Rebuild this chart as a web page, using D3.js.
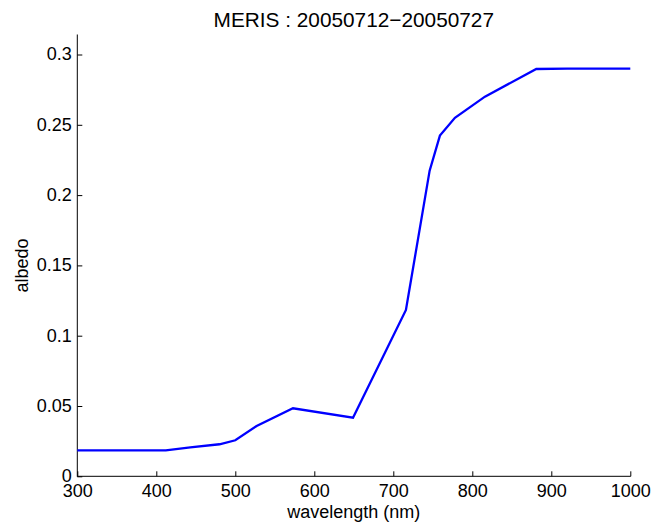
<!DOCTYPE html>
<html>
<head>
<meta charset="utf-8">
<script src="https://cdn.jsdelivr.net/npm/d3@7"></script>
<style>
  html, body { margin: 0; padding: 0; background: #fff; }
  svg { display: block; font-family: "Liberation Sans", Arial, Helvetica, sans-serif; }
</style>
</head>
<body>
<script>
// Data
const wavelengths = [300, 412, 443, 480, 500, 527, 573, 649, 716, 746, 759, 778, 816, 881, 920, 1000];
const albedo      = [0.0185, 0.0185, 0.0205, 0.0228, 0.0256, 0.0358, 0.0484, 0.0417, 0.1183, 0.2174, 0.2423, 0.255, 0.270, 0.2897, 0.2900, 0.2900];
const xTicks = [300, 400, 500, 600, 700, 800, 900, 1000];
const yTicks = [0, 0.05, 0.1, 0.15, 0.2, 0.25, 0.3];
const titleText = "MERIS : 20050712\u221220050727";
const xLabel = "wavelength (nm)";
const yLabel = "albedo";

const W = 652, H = 524;
const mLeft = 77.3, mRight = 630.3, mTop = 54.5, mBottom = 476.3;

const svg = d3.select("body").append("svg").attr("width", W).attr("height", H);

const x = d3.scaleLinear().domain([300, 1000]).range([mLeft, mRight]);
const y = d3.scaleLinear().domain([0, 0.3]).range([mBottom, mTop]);

const fmtY = d => (d === 0 ? "0" : String(+d.toFixed(2)));

// X axis
const xAxis = d3.axisBottom(x).tickValues(xTicks).tickSize(-5).tickPadding(0).tickFormat(d => String(d));
const gx = svg.append("g").attr("transform", `translate(0,${mBottom})`).call(xAxis);
gx.select(".domain").attr("stroke", "#000").attr("stroke-width", 1).attr("d", `M${mLeft},0H${mRight + 0.5}`);
gx.selectAll(".tick line").attr("stroke", "#000");
gx.selectAll(".tick text").attr("fill", "#000").attr("font-size", 18).attr("y", 20.5).attr("dy", 0);

// Y axis
const yAxis = d3.axisLeft(y).tickValues(yTicks).tickSize(-5).tickPadding(0).tickFormat(fmtY);
const gy = svg.append("g").attr("transform", `translate(${mLeft},0)`).call(yAxis);
gy.select(".domain").attr("stroke", "#000").attr("stroke-width", 1).attr("d", `M0,${mBottom + 0.5}V${mTop - 20}`);
gy.selectAll(".tick line").attr("stroke", "#000");
gy.selectAll(".tick text").attr("fill", "#000").attr("font-size", 18).attr("x", -5.5).attr("dy", "0.3em");

// Line
const line = d3.line().x((d, i) => x(wavelengths[i])).y(d => y(d));
svg.append("path").datum(albedo)
  .attr("fill", "none").attr("stroke", "#0000ff").attr("stroke-width", 2.3)
  .attr("stroke-linejoin", "miter").attr("d", line);

// Title
svg.append("text").attr("x", (mLeft + mRight) / 2).attr("y", 26.5)
  .attr("text-anchor", "middle").attr("font-size", 20.8).attr("fill", "#000").text(titleText);

// X label
svg.append("text").attr("x", (mLeft + mRight) / 2).attr("y", 517.5)
  .attr("text-anchor", "middle").attr("font-size", 18).attr("fill", "#000").text(xLabel);

// Y label
svg.append("text").attr("transform", `translate(28,${(mTop + mBottom) / 2}) rotate(-90)`)
  .attr("text-anchor", "middle").attr("font-size", 18).attr("fill", "#000").text(yLabel);
</script>
</body>
</html>
